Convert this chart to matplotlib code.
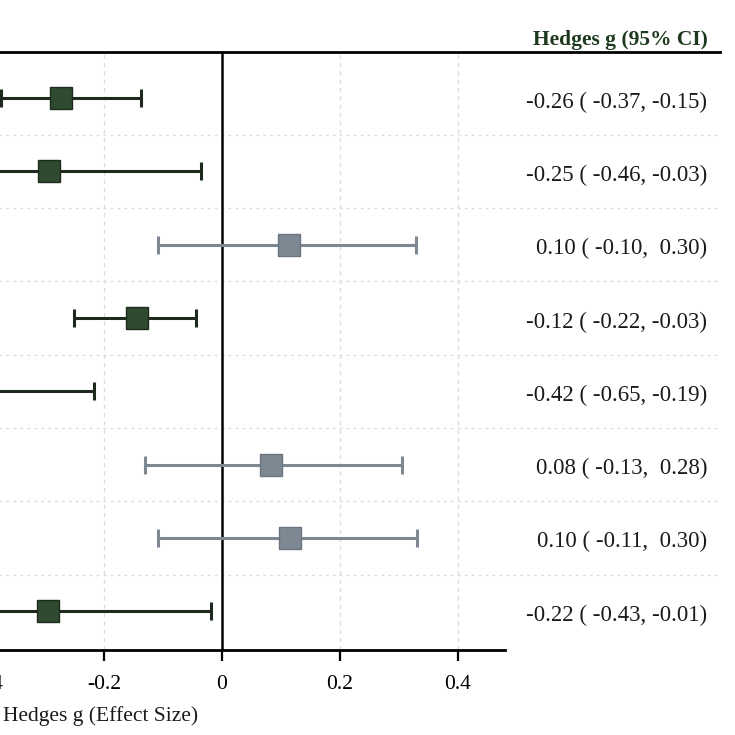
import matplotlib
matplotlib.use("Agg")
import matplotlib.pyplot as plt

plt.rcParams['font.family'] = ['Liberation Serif', 'DejaVu Serif']

# ---- data ----
estimates = [-0.273, -0.293, 0.114, -0.144, -0.42, 0.083, 0.115, -0.295]
ci_low    = [-0.375, -0.46, -0.108, -0.251, -0.65, -0.131, -0.108, -0.43]
ci_high   = [-0.137, -0.036, 0.329, -0.044, -0.217, 0.305, 0.331, -0.019]
significant = [True, True, False, True, True, False, False, True]
ci_labels = [
    "-0.26 ( -0.37, -0.15)",
    "-0.25 ( -0.46, -0.03)",
    "0.10 ( -0.10,  0.30)",
    "-0.12 ( -0.22, -0.03)",
    "-0.42 ( -0.65, -0.19)",
    "0.08 ( -0.13,  0.28)",
    "0.10 ( -0.11,  0.30)",
    "-0.22 ( -0.43, -0.01)",
]
xticks = [-0.4, -0.2, 0, 0.2, 0.4]
xtick_labels = ["-0.4", "-0.2", "0", "0.2", "0.4"]
header = "Hedges g (95% CI)"
xlabel = "Hedges g (Effect Size)"

# ---- styling ----
W = H = 735
fig = plt.figure(figsize=(W / 100, H / 100), dpi=100)
left_px, right_px, top_px, bot_px = -100, 720, 52, 650
ax = fig.add_axes([left_px / W, 1 - bot_px / H, (right_px - left_px) / W, (bot_px - top_px) / H])

px_per_unit = 590.0
zero_px = 222.0
ax.set_xlim((left_px - zero_px) / px_per_unit, (right_px - zero_px) / px_per_unit)
n = len(estimates)
ax.set_ylim(n - 1 + 0.53, -0.63)

green_face = "#2f4a2f"
green_edge = "#1c2b1c"
green_line = "#1e2a1e"
gray_face = "#7d8893"
gray_line = "#7d8893"

# grid
for i in range(n - 1):
    ax.axhline(i + 0.5, color="#dcdcdc", lw=1.0, ls=(0, (2, 3)), zorder=0)
for xt in xticks:
    if xt != 0:
        ax.axvline(xt, color="#dcdcdc", lw=1.0, ls=(0, (3, 3)), zorder=0)
ax.axvline(0, color="black", lw=1.8, zorder=2)

for i in range(n):
    sig = significant[i]
    lc = green_line if sig else gray_line
    fc = green_face if sig else gray_face
    ec = green_edge if sig else "#6b7580"
    ax.errorbar([estimates[i]], [i],
                xerr=[[estimates[i] - ci_low[i]], [ci_high[i] - estimates[i]]],
                fmt="none", ecolor=lc, elinewidth=2.2, capsize=6.5, capthick=2.2, zorder=3)
    ax.plot([estimates[i]], [i], marker="s", markersize=15.5, markerfacecolor=fc,
            markeredgecolor=ec, markeredgewidth=1.0, linestyle="none", zorder=4)
    ax.text((707 - zero_px) / px_per_unit, i + 0.02, ci_labels[i], ha="right",
            va="center_baseline", fontsize=16.5, color="#1a1a1a", zorder=5)

# spines
for s in ["left", "right"]:
    ax.spines[s].set_visible(False)
ax.spines["top"].set_linewidth(2.0)
ax.spines["bottom"].set_linewidth(2.0)
ax.spines["bottom"].set_bounds(ax.get_xlim()[0], (505 - zero_px) / px_per_unit)

ax.set_yticks([])
ax.set_xticks(xticks)
ax.set_xticklabels(xtick_labels)
ax.tick_params(axis="x", direction="out", length=8, width=1.6, labelsize=15.5, pad=10,
               colors="black")

fig.text(3 / W, 1 - 714 / H, xlabel, ha="left", va="center_baseline", fontsize=15.5,
         color="#1a1a1a")
fig.text(708 / W, 1 - 37 / H, header, ha="right", va="center_baseline", fontsize=15.5,
         fontweight="bold", color="#1e3a1e")

fig.savefig("out.png", dpi=100, facecolor="white")
